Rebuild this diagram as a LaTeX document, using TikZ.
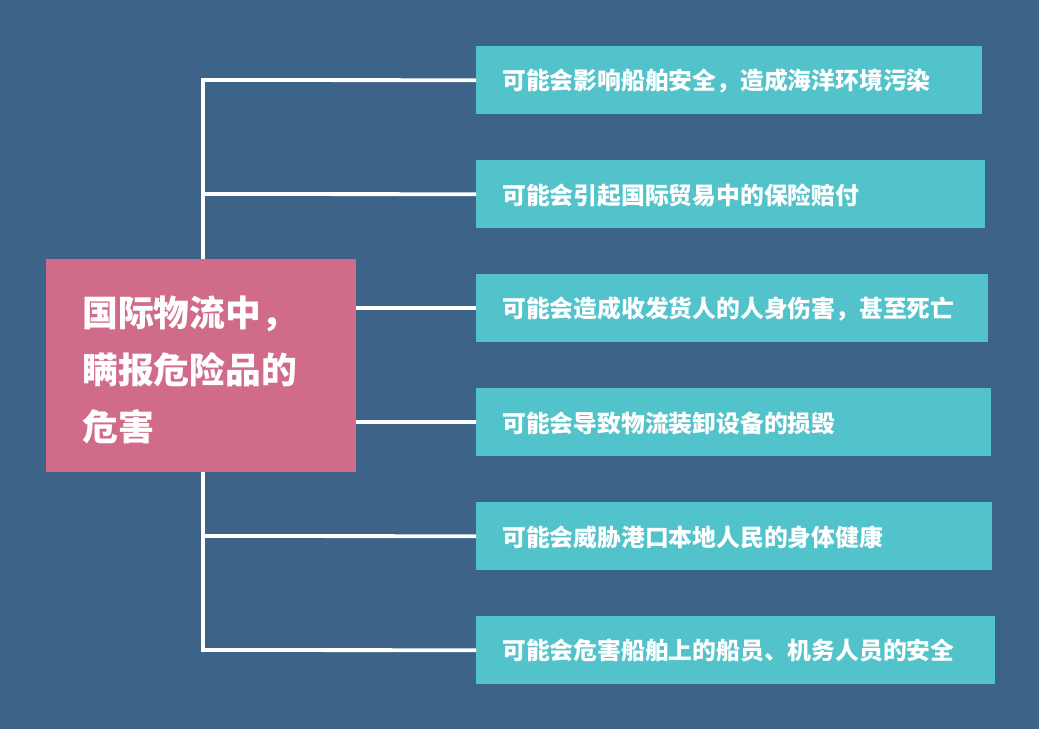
\documentclass[tikz,border=0pt]{standalone}
\usepackage{fontspec}
\newfontfamily\cjk{Noto Sans CJK SC}
\definecolor{bg}{HTML}{3E6389}
\definecolor{teal}{HTML}{52C3CB}
\definecolor{pink}{HTML}{D06C8A}
\begin{document}
\begin{tikzpicture}[x=1pt,y=-1pt,
  itembox/.style={fill=teal,draw=none,inner sep=0pt},
  itemtext/.style={anchor=west,text=white,font=\cjk\bfseries\fontsize{23.8}{28}\selectfont,inner sep=0pt},
  link/.style={draw=white,line width=3.8pt}]
\fill[bg] (0,0) rectangle (1039,729);
\useasboundingbox (0,0) rectangle (1039,729);
% trunk
\coordinate (t1) at (203,80);
\coordinate (t2) at (203,194);
\coordinate (t5) at (203,536);
\coordinate (t6) at (203,650);
% boxes
\node[itembox,minimum width=506pt,minimum height=68pt,anchor=north west] (b1) at (476,46) {};
\node[itembox,minimum width=509pt,minimum height=68pt,anchor=north west] (b2) at (476,160) {};
\node[itembox,minimum width=512pt,minimum height=68pt,anchor=north west] (b3) at (476,274) {};
\node[itembox,minimum width=515pt,minimum height=68pt,anchor=north west] (b4) at (476,388) {};
\node[itembox,minimum width=516pt,minimum height=68pt,anchor=north west] (b5) at (476,502) {};
\node[itembox,minimum width=519pt,minimum height=68pt,anchor=north west] (b6) at (476,616) {};
\draw[link,line cap=rect] (t1) -- (t6);
\draw[link] (t1) -- (b1.west);
\draw[link] (t2) -- (b2.west);
\draw[link] (t5) -- (b5.west);
\draw[link] (t6) -- (b6.west);
% main box
\node[fill=pink,inner sep=0pt,minimum width=310pt,minimum height=213pt,anchor=north west] (m) at (46,259) {};
\draw[link] (m.east |- b3.west) -- (b3.west);
\draw[link] (m.east |- b4.west) -- (b4.west);
\node[anchor=west,text=white,align=left,inner sep=0pt,font=\cjk\bfseries\fontsize{35.8}{57}\selectfont] (mt) at (82,370) {国际物流中，\\瞒报危险品的\\危害};
\node[itemtext] (x1) at (502,81) {可能会影响船舶安全，造成海洋环境污染};
\node[itemtext] (x2) at (502,195) {可能会引起国际贸易中的保险赔付};
\node[itemtext] (x3) at (502,309) {可能会造成收发货人的人身伤害，甚至死亡};
\node[itemtext] (x4) at (502,423) {可能会导致物流装卸设备的损毁};
\node[itemtext] (x5) at (502,537) {可能会威胁港口本地人民的身体健康};
\node[itemtext] (x6) at (502,651) {可能会危害船舶上的船员、机务人员的安全};
\end{tikzpicture}
\end{document}
